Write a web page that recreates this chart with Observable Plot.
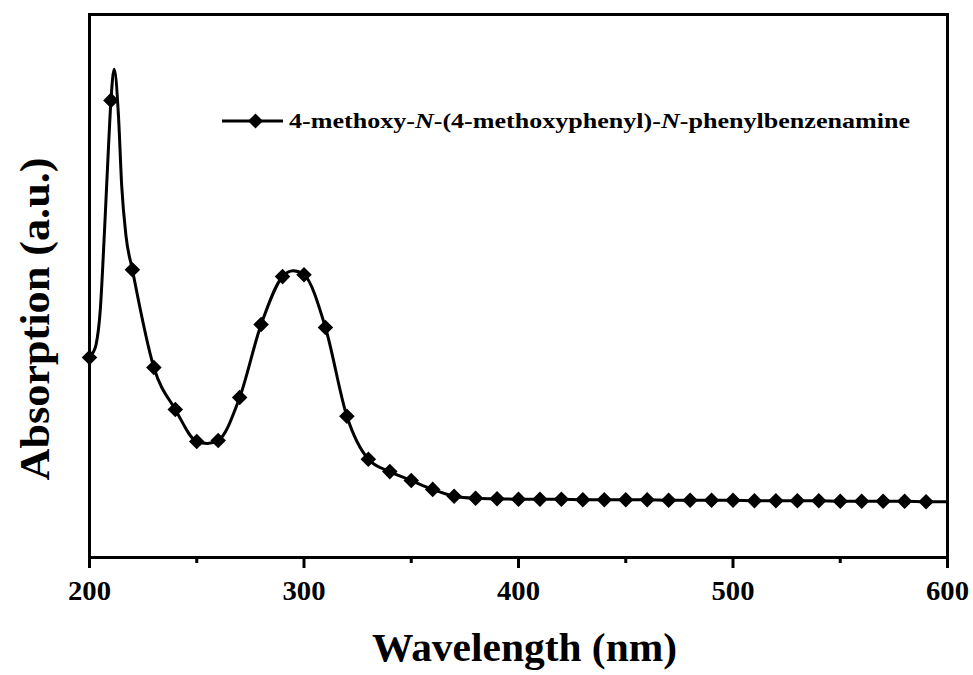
<!DOCTYPE html>
<html>
<head>
<meta charset="utf-8">
<script src="https://cdn.jsdelivr.net/npm/d3@7"></script>
<script src="https://cdn.jsdelivr.net/npm/@observablehq/plot@0.6"></script>
<style>
  html, body { margin: 0; padding: 0; background: #fff; }
  #wrap { position: relative; width: 973px; height: 675px; }
</style>
</head>
<body>
<div id="wrap"></div>
<script>
// Marker points (every 10 nm)
const markerWavelength = [200,210,220,230,240,250,260,270,280,290,300,310,320,330,340,350,360,370,380,390,400,410,420,430,440,450,460,470,480,490,500,510,520,530,540,550,560,570,580,590];
const markerAbsorption = [0.405,0.926,0.583,0.385,0.300,0.235,0.237,0.324,0.472,0.569,0.573,0.466,0.286,0.199,0.174,0.156,0.138,0.124,0.120,0.119,0.118,0.118,0.118,0.117,0.117,0.117,0.117,0.116,0.116,0.116,0.116,0.115,0.115,0.115,0.115,0.114,0.114,0.114,0.114,0.113];

// Extra points (peak shape, valley, end)
const curveExtraWavelength = [202,203,205,207,209,211.5,213.5,215,217,255,295,600];
const curveExtraAbsorption = [0.418,0.430,0.500,0.662,0.845,0.989,0.895,0.754,0.652,0.231,0.581,0.113];

const xMajorTicks = [200,300,400,500,600];
const xMinorTicks = [250,350,450,550];

const seriesName = "4-methoxy-N-(4-methoxyphenyl)-N-phenylbenzenamine";
const xTitle = "Wavelength (nm)";
const yTitle = "Absorption (a.u.)";

const FONT = "'Liberation Serif', 'Times New Roman', Times, 'Nimbus Roman', 'Nimbus Roman No9 L', 'FreeSerif', 'DejaVu Serif Condensed', serif";

const markers = markerWavelength.map((w, i) => ({wl: w, abs: markerAbsorption[i]}));
const curve = markers.concat(curveExtraWavelength.map((w, i) => ({wl: w, abs: curveExtraAbsorption[i]})))
  .sort((a, b) => a.wl - b.wl);

const chart = Plot.plot({
  width: 973,
  height: 675,
  marginLeft: 89,
  marginRight: 26,
  marginTop: 14,
  marginBottom: 118,
  style: {fontFamily: FONT, background: "#fff", color: "#000"},
  x: {domain: [200, 600], axis: null},
  y: {domain: [0, 1.1], axis: null},
  marks: [
    Plot.line(curve, {x: "wl", y: "abs", curve: "monotone-x", stroke: "#000", strokeWidth: 3}),
    Plot.dot(markers, {x: "wl", y: "abs", symbol: "diamond2", r: 7, fill: "#000", stroke: "none"}),
    Plot.frame({stroke: "#000", strokeWidth: 3}),
    Plot.axisX(xMajorTicks, {tickSize: 11, tickPadding: 12, stroke: "#000", strokeWidth: 3, fill: "#000", fontSize: 28, fontWeight: "bold", label: null}),
    Plot.axisX(xMinorTicks, {tickSize: 6, text: null, stroke: "#000", strokeWidth: 3, label: null}),
    Plot.text([xTitle], {text: d => d, frameAnchor: "bottom", textAnchor: "middle", lineAnchor: "middle", dy: 90, dx: 6, fontSize: 41, fontWeight: "bold", fill: "#000"}),
    Plot.text([yTitle], {text: d => d, frameAnchor: "left", textAnchor: "middle", lineAnchor: "middle", rotate: -90, dx: -54, dy: 33, fontSize: 43, fontWeight: "bold", fill: "#000"})
  ]
});

document.getElementById("wrap").appendChild(chart);

// Fit text widths to the reference
const svg = d3.select(chart);
const fit = (str, len) => svg.selectAll("text")
  .filter(function() { return this.textContent === str; })
  .attr("textLength", len).attr("lengthAdjust", "spacingAndGlyphs");
fit(xTitle, 305);
fit(yTitle, 323);
xMajorTicks.forEach(t => fit(String(t), 43));

// Legend
const lg = svg.append("g").attr("aria-label", "legend");
lg.append("line").attr("x1", 222).attr("x2", 283).attr("y1", 121).attr("y2", 121)
  .attr("stroke", "#000").attr("stroke-width", 3);
lg.append("path").attr("d", "M255.5,113.5L263,121L255.5,128.5L248,121Z").attr("fill", "#000");
const lt = lg.append("text").attr("x", 289).attr("y", 128.3)
  .attr("text-anchor", "start")
  .attr("font-size", 20).attr("font-weight", "bold").attr("fill", "#000")
  .attr("textLength", 621).attr("lengthAdjust", "spacingAndGlyphs");
seriesName.split(/(N)/).forEach(p => {
  if (!p) return;
  const ts = lt.append("tspan").text(p);
  if (p === "N") ts.attr("font-style", "italic");
});
</script>
</body>
</html>
